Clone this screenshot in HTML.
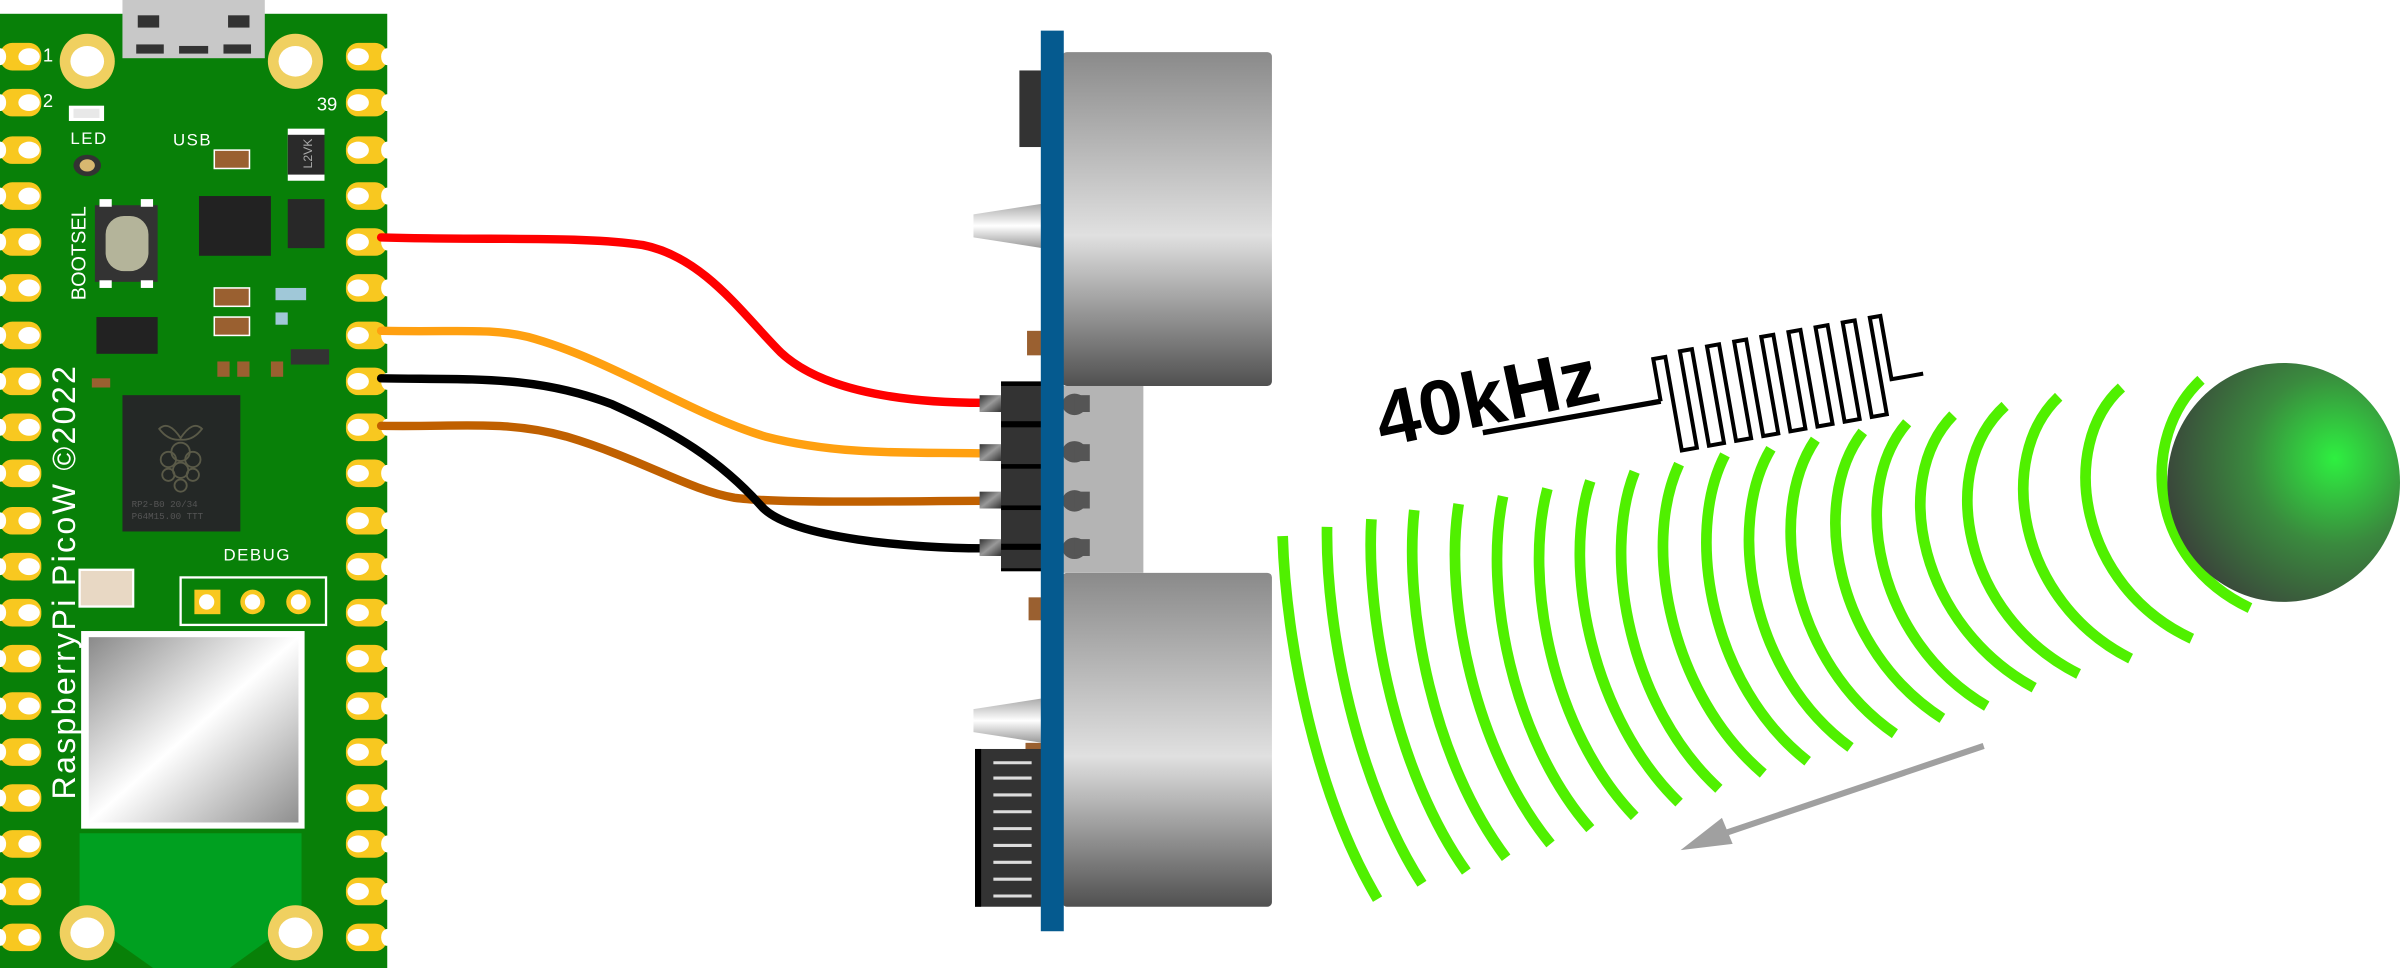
<!DOCTYPE html>
<html><head><meta charset="utf-8"><style>html,body{margin:0;padding:0;background:#fff;overflow:hidden}svg{display:block}</style></head><body>
<svg width="2400" height="968" viewBox="0 0 1568 632" preserveAspectRatio="none" xmlns="http://www.w3.org/2000/svg">
<defs>
<linearGradient id="tr" x1="0" y1="0" x2="0" y2="1"><stop offset="0" stop-color="#8a8a8a"/><stop offset="0.55" stop-color="#e0e0e0"/><stop offset="1" stop-color="#505050"/></linearGradient>
<linearGradient id="wf" x1="0" y1="0" x2="1" y2="1"><stop offset="0" stop-color="#8a8a8a"/><stop offset="0.5" stop-color="#ffffff"/><stop offset="1" stop-color="#8f8f8f"/></linearGradient>
<linearGradient id="tp" x1="0" y1="0" x2="0" y2="1"><stop offset="0" stop-color="#aaa"/><stop offset="0.5" stop-color="#fff"/><stop offset="1" stop-color="#999"/></linearGradient>
<linearGradient id="pin" x1="0" y1="0" x2="1" y2="1"><stop offset="0" stop-color="#333"/><stop offset="0.5" stop-color="#999"/><stop offset="1" stop-color="#333"/></linearGradient>
<radialGradient id="ball" cx="0.72" cy="0.4" r="0.8"><stop offset="0" stop-color="#2ef040"/><stop offset="0.45" stop-color="#3a8a3e"/><stop offset="1" stop-color="#3a3a3a"/></radialGradient>
</defs>
<rect x="0" y="9" width="253" height="623" fill="#088008"/>
<path d="M52 544 H197 V598 L150 632 H100 L52 598 Z" fill="#00a020"/>
<rect x="80" y="0" width="93" height="38" fill="#c8c8c8"/>
<rect x="90" y="10" width="14" height="8" fill="#333"/><rect x="149" y="10" width="14" height="8" fill="#333"/>
<rect x="89" y="29" width="18" height="6" fill="#333"/><rect x="117" y="30" width="19" height="5" fill="#333"/><rect x="146" y="29" width="18" height="6" fill="#333"/>
<g font-family="Liberation Sans, sans-serif" fill="#fff">
<text x="28" y="40" font-size="12">1</text><text x="28" y="70" font-size="12">2</text><text x="207" y="72" font-size="12">39</text>
<text x="46" y="94" font-size="11" letter-spacing="1">LED</text><text x="113" y="95" font-size="11" letter-spacing="1">USB</text>
<text x="146" y="366" font-size="11" letter-spacing="1">DEBUG</text>
<text transform="translate(56,196) rotate(-90)" font-size="13">BOOTSEL</text>
<text transform="translate(49,522) rotate(-90)" font-size="21" letter-spacing="1.5">RaspberryPi PicoW ©2022</text>
</g>
<g fill="#f0d060"><circle cx="57" cy="40" r="18"/><circle cx="193" cy="40" r="18"/><circle cx="57" cy="609" r="18"/><circle cx="193" cy="609" r="18"/></g>
<g fill="#fff"><ellipse cx="57" cy="40" rx="11" ry="10"/><ellipse cx="193" cy="40" rx="11" ry="10"/><ellipse cx="57" cy="609" rx="11" ry="10"/><ellipse cx="193" cy="609" rx="11" ry="10"/></g>
<rect x="45" y="69" width="23" height="10" fill="#fff"/><rect x="48" y="71" width="17" height="6" fill="#e8e8e8"/>
<ellipse cx="57" cy="108" rx="9" ry="7" fill="#333"/><ellipse cx="57" cy="108" rx="5" ry="4" fill="#d8b870"/>
<rect x="62" y="134" width="41" height="50" fill="#333"/><rect x="65" y="130" width="8" height="5" fill="#fff"/><rect x="92" y="130" width="8" height="5" fill="#fff"/><rect x="65" y="183" width="8" height="5" fill="#fff"/><rect x="92" y="183" width="8" height="5" fill="#fff"/>
<rect x="69" y="141" width="28" height="36" rx="12" fill="#b4b49a"/>
<rect x="130" y="128" width="47" height="39" fill="#222"/>
<rect x="188" y="130" width="24" height="32" fill="#282828"/>
<rect x="188" y="84" width="24" height="34" fill="#fff"/><rect x="188" y="88" width="24" height="26" fill="#2a2a2a"/>
<text transform="translate(204,110) rotate(-90)" font-family="Liberation Sans, sans-serif" font-size="8" fill="#aaa">L2VK</text>
<rect x="63" y="207" width="40" height="24" fill="#222"/>
<rect x="140" y="98" width="23" height="12" fill="#9a6030" stroke="#fff" stroke-width="1"/>
<rect x="140" y="188" width="23" height="12" fill="#9a6030" stroke="#fff" stroke-width="1"/>
<rect x="140" y="207" width="23" height="12" fill="#9a6030" stroke="#fff" stroke-width="1"/>
<rect x="180" y="188" width="20" height="8" fill="#a0c8d8"/><rect x="180" y="204" width="8" height="8" fill="#a0c8d8"/>
<rect x="190" y="228" width="25" height="10" fill="#333"/>
<rect x="142" y="236" width="8" height="10" fill="#9a6030"/><rect x="155" y="236" width="8" height="10" fill="#9a6030"/><rect x="177" y="236" width="8" height="10" fill="#9a6030"/>
<rect x="60" y="247" width="12" height="6" fill="#9a6030"/>
<rect x="80" y="258" width="77" height="89" fill="#242826"/>
<g fill="none" stroke="#5a5a48" stroke-width="1.2"><circle cx="118" cy="295" r="6"/><circle cx="110" cy="300" r="5"/><circle cx="126" cy="300" r="5"/><circle cx="118" cy="307" r="5"/><circle cx="110" cy="310" r="4"/><circle cx="126" cy="310" r="4"/><circle cx="118" cy="317" r="4"/><path d="M104 280 Q110 274 118 286 Q126 274 132 280 Q126 288 118 287 Q110 288 104 280Z"/></g>
<text x="86" y="331" font-family="Liberation Mono, monospace" font-size="6" fill="#555">RP2-B0  20/34</text>
<text x="86" y="339" font-family="Liberation Mono, monospace" font-size="6" fill="#555">P64M15.00 TTT</text>
<rect x="118" y="377" width="95" height="31" fill="none" stroke="#fff" stroke-width="1.5"/>
<rect x="127" y="385" width="17" height="16" fill="#f8c820"/><circle cx="135" cy="393" r="5" fill="#fff"/>
<circle cx="165" cy="393" r="8" fill="#f8c820"/><circle cx="165" cy="393" r="5" fill="#fff"/>
<circle cx="195" cy="393" r="8" fill="#f8c820"/><circle cx="195" cy="393" r="5" fill="#fff"/>
<rect x="52" y="372" width="35" height="24" fill="#e8d8c4" stroke="#fff" stroke-width="1.5"/>
<rect x="53" y="412" width="146" height="129" fill="#fff"/>
<rect x="58" y="416" width="137" height="121" fill="url(#wf)"/>
<g id="pads">
<g fill="#f8c820">
<rect x="0" y="28" width="27" height="18" rx="8"/><rect x="0" y="58" width="27" height="18" rx="8"/><rect x="0" y="89" width="27" height="18" rx="8"/><rect x="0" y="119" width="27" height="18" rx="8"/><rect x="0" y="149" width="27" height="18" rx="8"/><rect x="0" y="179" width="27" height="18" rx="8"/><rect x="0" y="210" width="27" height="18" rx="8"/><rect x="0" y="240" width="27" height="18" rx="8"/><rect x="0" y="270" width="27" height="18" rx="8"/><rect x="0" y="300" width="27" height="18" rx="8"/><rect x="0" y="331" width="27" height="18" rx="8"/><rect x="0" y="361" width="27" height="18" rx="8"/><rect x="0" y="391" width="27" height="18" rx="8"/><rect x="0" y="421" width="27" height="18" rx="8"/><rect x="0" y="452" width="27" height="18" rx="8"/><rect x="0" y="482" width="27" height="18" rx="8"/><rect x="0" y="512" width="27" height="18" rx="8"/><rect x="0" y="542" width="27" height="18" rx="8"/><rect x="0" y="573" width="27" height="18" rx="8"/><rect x="0" y="603" width="27" height="18" rx="8"/>
</g>
<g fill="#fff">
<ellipse cx="19" cy="37" rx="7" ry="5.5"/><ellipse cx="19" cy="67" rx="7" ry="5.5"/><ellipse cx="19" cy="98" rx="7" ry="5.5"/><ellipse cx="19" cy="128" rx="7" ry="5.5"/><ellipse cx="19" cy="158" rx="7" ry="5.5"/><ellipse cx="19" cy="188" rx="7" ry="5.5"/><ellipse cx="19" cy="219" rx="7" ry="5.5"/><ellipse cx="19" cy="249" rx="7" ry="5.5"/><ellipse cx="19" cy="279" rx="7" ry="5.5"/><ellipse cx="19" cy="309" rx="7" ry="5.5"/><ellipse cx="19" cy="340" rx="7" ry="5.5"/><ellipse cx="19" cy="370" rx="7" ry="5.5"/><ellipse cx="19" cy="400" rx="7" ry="5.5"/><ellipse cx="19" cy="430" rx="7" ry="5.5"/><ellipse cx="19" cy="461" rx="7" ry="5.5"/><ellipse cx="19" cy="491" rx="7" ry="5.5"/><ellipse cx="19" cy="521" rx="7" ry="5.5"/><ellipse cx="19" cy="551" rx="7" ry="5.5"/><ellipse cx="19" cy="582" rx="7" ry="5.5"/><ellipse cx="19" cy="612" rx="7" ry="5.5"/>
<ellipse cx="0" cy="37" rx="4" ry="5.5"/><ellipse cx="0" cy="67" rx="4" ry="5.5"/><ellipse cx="0" cy="98" rx="4" ry="5.5"/><ellipse cx="0" cy="128" rx="4" ry="5.5"/><ellipse cx="0" cy="158" rx="4" ry="5.5"/><ellipse cx="0" cy="188" rx="4" ry="5.5"/><ellipse cx="0" cy="219" rx="4" ry="5.5"/><ellipse cx="0" cy="249" rx="4" ry="5.5"/><ellipse cx="0" cy="279" rx="4" ry="5.5"/><ellipse cx="0" cy="309" rx="4" ry="5.5"/><ellipse cx="0" cy="340" rx="4" ry="5.5"/><ellipse cx="0" cy="370" rx="4" ry="5.5"/><ellipse cx="0" cy="400" rx="4" ry="5.5"/><ellipse cx="0" cy="430" rx="4" ry="5.5"/><ellipse cx="0" cy="461" rx="4" ry="5.5"/><ellipse cx="0" cy="491" rx="4" ry="5.5"/><ellipse cx="0" cy="521" rx="4" ry="5.5"/><ellipse cx="0" cy="551" rx="4" ry="5.5"/><ellipse cx="0" cy="582" rx="4" ry="5.5"/><ellipse cx="0" cy="612" rx="4" ry="5.5"/>
</g>
</g>
<use href="#pads" transform="translate(253,0) scale(-1,1)"/>
<g fill="none" stroke-width="5.5" stroke-linecap="round">
<path d="M249 155 C320 157 380 154 420 160 C460 168 485 205 510 230 C540 258 600 263 642 263" stroke="#ff0000"/>
<path d="M249 216 C300 217 320 214 345 220 C400 235 450 270 500 285 C550 298 600 295 642 296" stroke="#ffa010"/>
<path d="M249 278 C300 279 330 274 370 285 C420 300 450 320 480 325 C510 329 600 327 642 327" stroke="#c06000"/>
<path d="M249 247 C310 248 350 245 400 264 C440 282 470 300 497 330 C515 352 600 358 642 358" stroke="#000"/>
</g>
<rect x="694" y="34" width="137" height="218" rx="3" fill="url(#tr)"/>
<rect x="694" y="374" width="137" height="218" rx="3" fill="url(#tr)"/>
<rect x="694" y="252" width="53" height="122" fill="#b4b4b4"/>
<rect x="666" y="46" width="15" height="50" fill="#333"/>
<path d="M636 140 L681 133 L681 162 L636 155Z" fill="url(#tp)"/>
<path d="M636 463 L681 456 L681 485 L636 478Z" fill="url(#tp)"/>
<rect x="671" y="216" width="10" height="16" fill="#9a6030"/><rect x="672" y="390" width="9" height="15" fill="#9a6030"/><rect x="670" y="485" width="11" height="15" fill="#9a6030"/>
<rect x="637" y="489" width="44" height="103" fill="#333"/><rect x="637" y="489" width="4" height="103" fill="#000"/>
<g stroke="#ddd" stroke-width="2"><line x1="649" y1="498" x2="674" y2="498"/><line x1="649" y1="508" x2="674" y2="508"/><line x1="649" y1="519" x2="674" y2="519"/><line x1="649" y1="530" x2="674" y2="530"/><line x1="649" y1="541" x2="674" y2="541"/><line x1="649" y1="552" x2="674" y2="552"/><line x1="649" y1="563" x2="674" y2="563"/><line x1="649" y1="574" x2="674" y2="574"/><line x1="649" y1="585" x2="674" y2="585"/></g>
<rect x="654" y="249" width="27" height="124" fill="#000"/>
<g fill="#333"><rect x="654" y="252" width="27" height="23"/><rect x="654" y="279" width="27" height="24"/><rect x="654" y="306" width="27" height="24"/><rect x="654" y="333" width="27" height="22"/><rect x="654" y="359" width="27" height="12"/></g>
<g fill="url(#pin)"><rect x="640" y="258" width="14" height="11"/><rect x="640" y="290" width="14" height="11"/><rect x="640" y="321" width="14" height="11"/><rect x="640" y="352" width="14" height="11"/></g>
<g fill="#555"><ellipse cx="702" cy="264" rx="8" ry="7"/><ellipse cx="702" cy="295" rx="8" ry="7"/><ellipse cx="702" cy="327" rx="8" ry="7"/><ellipse cx="702" cy="358" rx="8" ry="7"/>
<rect x="702" y="258" width="10" height="11"/><rect x="702" y="290" width="10" height="11"/><rect x="702" y="321" width="10" height="11"/><rect x="702" y="352" width="10" height="11"/></g>
<rect x="680" y="20" width="15" height="588" fill="#055a8f"/>
<g fill="none" stroke="#50f000" stroke-width="7">
<path d="M1438 248 C1398 285 1402 365 1470 397"/>
<path d="M1386 253 C1344 291 1358 383 1432 417"/>
<path d="M1345 259 C1303 299 1318 393 1392 430"/>
<path d="M1310 265 C1265 306 1282 402 1358 440"/>
<path d="M1276 271 C1234 314 1255 409 1329 449"/>
<path d="M1246 276 C1207 321 1226 419 1298 461"/>
<path d="M1217 282 C1181 329 1200 425 1269 469"/>
<path d="M1186 287 C1153 336 1171 433 1238 479"/>
<path d="M1157 293 C1127 343 1144 441 1209 488"/>
<path d="M1127 297 C1100 349 1118 448 1181 497"/>
<path d="M1097 303 C1072 357 1092 454 1152 505"/>
<path d="M1068 308 C1046 364 1065 462 1123 515"/>
<path d="M1039 314 C1020 371 1041 470 1097 524"/>
<path d="M1011 319 C995 378 1014 477 1068 533"/>
<path d="M982 324 C969 385 988 483 1039 541"/>
<path d="M953 329 C943 392 964 491 1013 551"/>
<path d="M924 333 C917 398 937 498 984 560"/>
<path d="M896 339 C892 405 913 506 958 569"/>
<path d="M867 344 C866 412 887 512 929 577"/>
<path d="M838 350 C840 420 860 520 900 587"/>
</g>
<ellipse cx="1492" cy="315" rx="76" ry="78" fill="url(#ball)"/>
<line x1="1296" y1="487" x2="1118" y2="547" stroke="#a0a0a0" stroke-width="4"/>
<path d="M1098 555 L1125 534 L1132 551 Z" fill="#a0a0a0"/>
<text transform="translate(903,292) rotate(-12)" font-family="Liberation Sans, sans-serif" font-weight="bold" font-size="51" fill="#000">40kHz</text>
<g transform="translate(1085,262) rotate(-10)" fill="none" stroke="#000" stroke-width="2.6">
<line x1="-118" y1="0" x2="0" y2="0" stroke-width="3.5"/>
<path d="M0 0 V-28 H8 V34 H18 V-30 H26 V34 H36 V-30 H44 V34 H54 V-30 H62 V34 H72 V-30 H80 V34 H90 V-30 H98 V34 H108 V-30 H116 V34 H126 V-30 H134 V34 H144 V-30 H151 V12 H172"/>
</g>
</svg>
</body></html>
